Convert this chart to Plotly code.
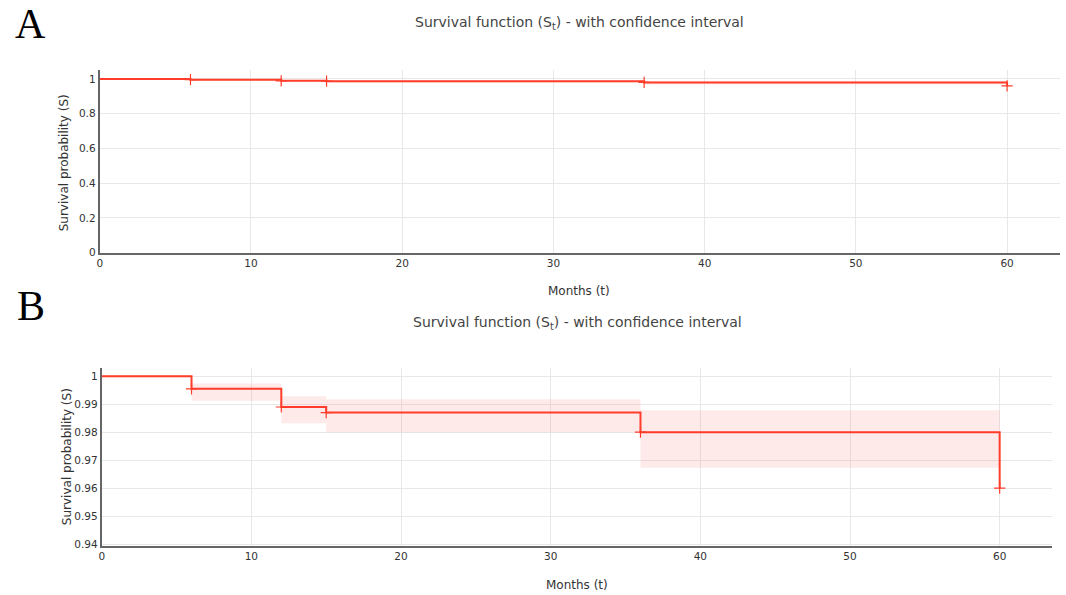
import plotly.graph_objects as go

# Data
times = [0, 6, 12, 15, 36, 60]
survival = [1.0, 0.9955, 0.989, 0.987, 0.980, 0.960]
ci_upper = [1.0, 0.9974, 0.9928, 0.9918, 0.9878, 0.9878]
ci_lower = [1.0, 0.9912, 0.9832, 0.9800, 0.9673, 0.9673]
event_times = [6, 12, 15, 36, 60]
event_surv = [0.9955, 0.989, 0.987, 0.980, 0.960]

xticks = [0, 10, 20, 30, 40, 50, 60]
yticks_a = [0, 0.2, 0.4, 0.6, 0.8, 1]
yticks_b = [0.94, 0.95, 0.96, 0.97, 0.98, 0.99, 1]

W, H = 1066, 595
K = 0.987  # vertical correction observed in the photographed page
LINE = "#ff3d2a"
BAND = "rgba(255, 90, 90, 0.13)"
FONT = "Verdana, DejaVu Sans, sans-serif"

fig = go.Figure()

for xa, ya in [("x", "y"), ("x2", "y2")]:
    fig.add_trace(go.Scatter(x=times, y=ci_upper, mode="lines", line=dict(width=0, shape="hv"),
                             showlegend=False, hoverinfo="skip", xaxis=xa, yaxis=ya))
    fig.add_trace(go.Scatter(x=times, y=ci_lower, mode="lines", line=dict(width=0, shape="hv"),
                             fill="tonexty", fillcolor=BAND, showlegend=False, hoverinfo="skip",
                             xaxis=xa, yaxis=ya))
    fig.add_trace(go.Scatter(x=times, y=survival, mode="lines", line=dict(color=LINE, width=2, shape="hv"),
                             showlegend=False, xaxis=xa, yaxis=ya))
    fig.add_trace(go.Scatter(x=event_times, y=event_surv, mode="markers",
                             marker=dict(symbol="cross-thin", size=8, line=dict(color=LINE, width=1.2)),
                             showlegend=False, xaxis=xa, yaxis=ya))

def px_x(p):
    return p / W

def px_y(p):
    return 1 - (p / K) / H

axis_common = dict(
    showline=True, linecolor="#666", linewidth=2, mirror=False,
    showgrid=True, gridcolor="#e8e8e8", gridwidth=1, zeroline=False,
    ticks="", tickfont=dict(family=FONT, size=10.5, color="#333"),
)

fig.update_layout(
    width=W, height=H,
    margin=dict(l=0, r=0, t=0, b=0),
    paper_bgcolor="white", plot_bgcolor="white",
    font=dict(family=FONT, color="#444"),
    xaxis=dict(domain=[px_x(97), px_x(1060)], range=[0, 63.5], tickvals=xticks, anchor="y", **axis_common),
    yaxis=dict(domain=[px_y(252), px_y(70)], range=[0, 1.05], tickvals=yticks_a,
               ticktext=[str(v) for v in yticks_a], anchor="x", **axis_common),
    xaxis2=dict(domain=[px_x(99), px_x(1052)], range=[0, 63.5], tickvals=xticks, anchor="y2", **axis_common),
    yaxis2=dict(domain=[px_y(544), px_y(366.7)], range=[0.9395, 1.003], tickvals=yticks_b,
                ticktext=[str(v) for v in yticks_b], anchor="x2", **axis_common),
)

def note(text, x, y, size, color="#333", family=FONT, angle=0):
    return dict(text=text, x=px_x(x), y=px_y(y), xref="paper", yref="paper",
                xanchor="center", yanchor="middle", showarrow=False, textangle=angle,
                font=dict(family=family, size=size, color=color))

title = "Survival function (S<sub>t</sub>) - with confidence interval"
serif = "Liberation Serif, Times New Roman, serif"
ann = [
    note(title, 578, 23, 14, "#444"),
    note(title, 576, 322, 14, "#444"),
    note("Months (t)", 578, 290, 12),
    note("Months (t)", 576, 583, 12),
    note("Survival probability (S)", 62, 162, 12, angle=-90),
    note("Survival probability (S)", 65, 455, 12, angle=-90),
    note("A", 28, 24, 42, "black", serif),
    note("B", 28, 305, 42, "black", serif),
]
fig.update_layout(annotations=ann)

post = (
    "var s=document.createElement('style');"
    "s.textContent='html,body{margin:0;padding:0;overflow:hidden;height:595px;}';"
    "document.head.appendChild(s);"
)
fig.write_html("out.html", config={"displayModeBar": False}, post_script=post)
